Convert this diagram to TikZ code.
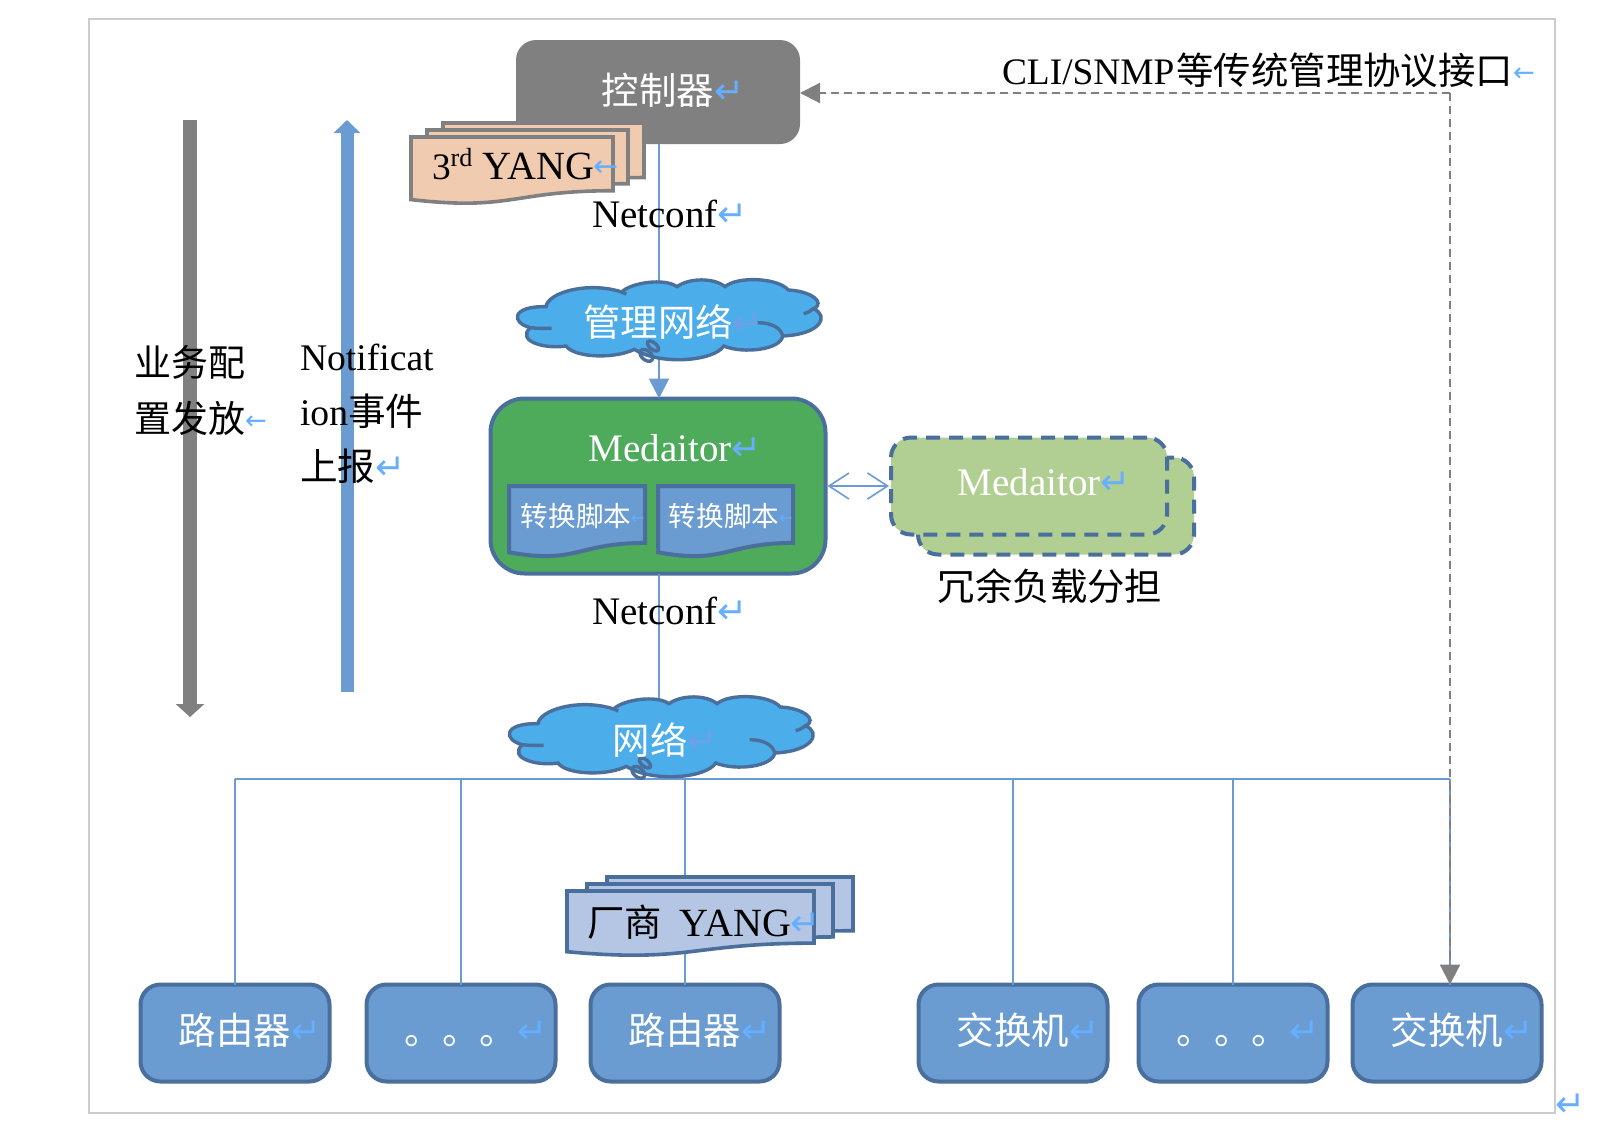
\documentclass[tikz,border=0pt]{standalone}
\usepackage{fontspec}
\usetikzlibrary{arrows.meta}
\setmainfont{Liberation Serif}
\newfontfamily\cjk{Noto Sans CJK SC}
\newfontfamily\markfont{DejaVu Sans}
\definecolor{edgeblue}{HTML}{4A6F9C}
\definecolor{boxblue}{HTML}{6A9BD1}
\definecolor{cloudblue}{HTML}{4BADEA}
\definecolor{markblue}{HTML}{66AEFF}
\definecolor{faintblue}{HTML}{6F9FE8}
\definecolor{midgray}{HTML}{808080}
\definecolor{medgreen}{HTML}{4EAB5B}
\definecolor{sparegreen}{HTML}{B1CF93}
\definecolor{peach}{HTML}{F1CBAF}
\definecolor{paleblue}{HTML}{B4C6E4}
\newcommand{\retmark}[1][markblue]{\rlap{\raisebox{0.3pt}{\fontsize{18}{18}\markfont\color{#1}↵}}}
\newcommand{\stubmark}[1][13]{\rlap{\raisebox{1.5pt}{\fontsize{#1}{#1}\markfont\color{markblue}←}}}
% wavy sheet: style, x, y, w, h
\newcommand{\wavedoc}[5]{
\begin{scope}[shift={(#2,#3)},xscale=#4,yscale=#5]
\path[#1] (0,0) -- (1,0) -- (1,.802) .. controls (.5,.802) and (.5,1.1075) .. (0,.934) -- cycle;
\end{scope}}
% cloud outline, drawn from an origin
\newcommand{\netcloud}[2]{
\begin{scope}[shift={(#1,#2)},scale=1/3]
\path[cloudshape,fill=cloudblue] (135,122) .. controls (140,80) and (260,45) .. (362,78)
 .. controls (390,50) and (490,35) .. (528,62) .. controls (565,35) and (640,35) .. (672,62)
 .. controls (710,30) and (830,35) .. (862,72) .. controls (930,75) and (975,110) .. (938,128)
 .. controls (985,150) and (960,205) .. (845,210) .. controls (840,250) and (730,265) .. (668,240)
 .. controls (640,285) and (480,300) .. (400,250) .. controls (340,280) and (220,275) .. (195,240)
 .. controls (130,250) and (45,225) .. (88,185) .. controls (30,170) and (30,120) .. (135,122) -- cycle;
\draw[cloudshape] (88,185) .. controls (110,188) and (130,187) .. (152,187);
\draw[cloudshape] (938,128) .. controls (930,135) and (920,140) .. (908,143);
\draw[cloudshape] (770,170) .. controls (810,170) and (840,185) .. (845,210);
\draw[cloudshape] (362,78) -- (376,84);
\draw[cloudshape] (456,240) ellipse [x radius=20, y radius=10, rotate=-40];
\draw[cloudshape] (436,268) ellipse [x radius=22, y radius=14, rotate=-40];
\end{scope}}
\tikzset{
  every node/.style={inner sep=0pt, outer sep=0pt},
  bigtext/.style={font=\fontsize{18.7}{22}\selectfont},
  latintext/.style={font=\fontsize{19.5}{22}\selectfont},
  onbase/.style={bigtext, anchor=base},
  onbasewest/.style={bigtext, anchor=base west},
  devbox/.style={draw=edgeblue, line width=2pt, fill=boxblue, rounded corners=10pt, minimum width=94.5pt, minimum height=48.5pt, text=white, bigtext, text height=15pt, text depth=4pt},
  sparebox/.style={draw=edgeblue, line width=2pt, fill=sparegreen, rounded corners=10pt, dash pattern=on 7pt off 4.5pt, minimum width=138pt, minimum height=48.5pt, text=white, latintext, text height=13pt, text depth=4pt},
  cloudshape/.style={draw=edgeblue, line width=1.7pt},
  netline/.style={draw=boxblue, line width=1pt},
  mgmtline/.style={draw=midgray, line width=1.1pt, dash pattern=on 4pt off 2.5pt},
  graydoc/.style={draw=midgray, line width=1.8pt, fill=peach},
  bluedoc/.style={draw=edgeblue, line width=1.8pt, fill=paleblue},
  scriptdoc/.style={draw=edgeblue, line width=2pt, fill=boxblue},
}
\begin{document}
\begin{tikzpicture}[x=0.5pt,y=-0.5pt]
\useasboundingbox[fill=white] (0,0) rectangle (1606,1140);
\draw[draw=black!20, line width=1pt] (89,19) rectangle (1555,1113);

\coordinate (cfgstart) at (190,120);
\coordinate (cfgend) at (190,717);
\coordinate (notifystart) at (347,692);
\coordinate (notifyend) at (347,120);
\draw[midgray, line width=7pt, -{Triangle[length=6.5pt,width=14pt]}] (cfgstart) -- (cfgend);
\draw[boxblue, line width=6.5pt, -{Triangle[length=6.5pt,width=13pt]}] (notifystart) -- (notifyend);

\node[draw=none, fill=midgray, rounded corners=10pt, minimum width=142pt, minimum height=52pt, text=white, bigtext, text height=15pt, text depth=3pt] (ctrl) at (658,92) {{\cjk 控制器}\retmark};
\node[devbox, fill=medgreen, rounded corners=17pt, minimum width=167.5pt, minimum height=87.5pt] (med) at (658,486) {};
\node[sparebox] (spareback) at (1056,506) {};
\node[sparebox] (spare) at (1029,486) {Medaitor\retmark};

\node[devbox] (r1) at (235,1033) {{\cjk 路由器}\retmark};
\node[devbox] (dots1) at (461,1033) {{\cjk 。。。}\retmark};
\node[devbox] (r2) at (685,1033) {{\cjk 路由器}\retmark};
\node[devbox] (sw1) at (1013,1033) {{\cjk 交换机}\retmark};
\node[devbox] (dots2) at (1233,1033) {{\cjk 。。。}\retmark};
\node[devbox] (sw2) at (1447,1033) {{\cjk 交换机}\retmark};

\coordinate (bus) at (659,779);
\coordinate (turn) at (1450,93);
\draw[netline, -{Triangle[length=10pt,width=10pt]}, fill=boxblue] (ctrl.south -| bus) -- (med.north -| bus);
\draw[netline] (med.south -| bus) -- (bus);
\draw[netline] (r1 |- bus) -- (turn |- bus);
\draw[netline] (r1 |- bus) -- (r1);
\draw[netline] (dots1 |- bus) -- (dots1);
\draw[netline] (r2 |- bus) -- (r2);
\draw[netline] (sw1 |- bus) -- (sw1);
\draw[netline] (dots2 |- bus) -- (dots2);
\draw[netline] (turn |- bus) -- (turn |- sw2.north);
\draw[mgmtline, -{Triangle[length=10pt,width=10pt]}, fill=midgray] (turn) -- (turn -| ctrl.east);
\draw[mgmtline, -{Triangle[length=10pt,width=10pt]}, fill=midgray] (turn) -- (turn |- sw2.north);
\draw[boxblue, line width=0.8pt, shorten <=1pt, shorten >=1pt, {Straight Barb[length=10pt,width=13pt]}-{Straight Barb[length=10pt,width=13pt]}] (med) -- (spare);

\wavedoc{graydoc}{443}{123}{201}{68}
\wavedoc{graydoc}{427}{130}{201}{67}
\wavedoc{graydoc}{411}{137}{202}{67}
\node[onbasewest] (thirdyang) at (432,179) {3\textsuperscript{rd} {\fontsize{20}{22}\selectfont YANG}\stubmark[15]};
\wavedoc{bluedoc}{607}{877}{246}{67}
\wavedoc{bluedoc}{587}{884}{246}{66}
\wavedoc{bluedoc}{567}{891}{247}{65}
\node[onbasewest] (vendoryang) at (587,936) {{\cjk 厂商}\hspace{9pt}{\fontsize{20}{22}\selectfont YANG}\retmark};

\wavedoc{scriptdoc}{509}{486}{136}{71}
\wavedoc{scriptdoc}{658}{486}{135}{71}
\node[onbase, font=\fontsize{13.8}{16}\selectfont, text=white] (script1) at (576,526) {{\cjk 转换脚本}\stubmark[8]};
\node[onbase, font=\fontsize{13.8}{16}\selectfont, text=white] (script2) at (724,526) {{\cjk 转换脚本}\stubmark[8]};
\node[onbase, latintext, text=white] (medname) at (660,461) {Medaitor\retmark};

\netcloud{501}{266}
\netcloud{493}{683}
\node[onbase, text=white] (mgmtnet) at (658,336) {{\cjk 管理网络}\retmark[faintblue]};
\node[onbase, text=white] (datanet) at (650,754) {{\cjk 网络}\retmark[faintblue]};

\node[onbase, latintext] (netconf1) at (655,227) {Netconf\retmark};
\node[onbase, latintext] (netconf2) at (655,624) {Netconf\retmark};
\node[onbase] (loadshare) at (1050,600) {{\cjk 冗余负载分担}};
\node[onbasewest] (climsg) at (1002,84) {CLI/SNMP\hspace{1pt}{\cjk 等传统管理协议接口}\stubmark};
\node[bigtext, anchor=north west, align=left, font=\fontsize{18.5}{28}\selectfont] (cfgmsg) at (134,345) {{\cjk 业务配}\\{\cjk 置发放}\stubmark};
\node[bigtext, anchor=north west, align=left, font=\fontsize{18.8}{27.5}\selectfont] (notifymsg) at (300,344) {Notificat\\ion{\cjk 事件}\\{\cjk 上报}\retmark};
\node[font=\fontsize{18}{18}\markfont, text=markblue] (endmark) at (1571,1105) {↵};
\end{tikzpicture}
\end{document}
